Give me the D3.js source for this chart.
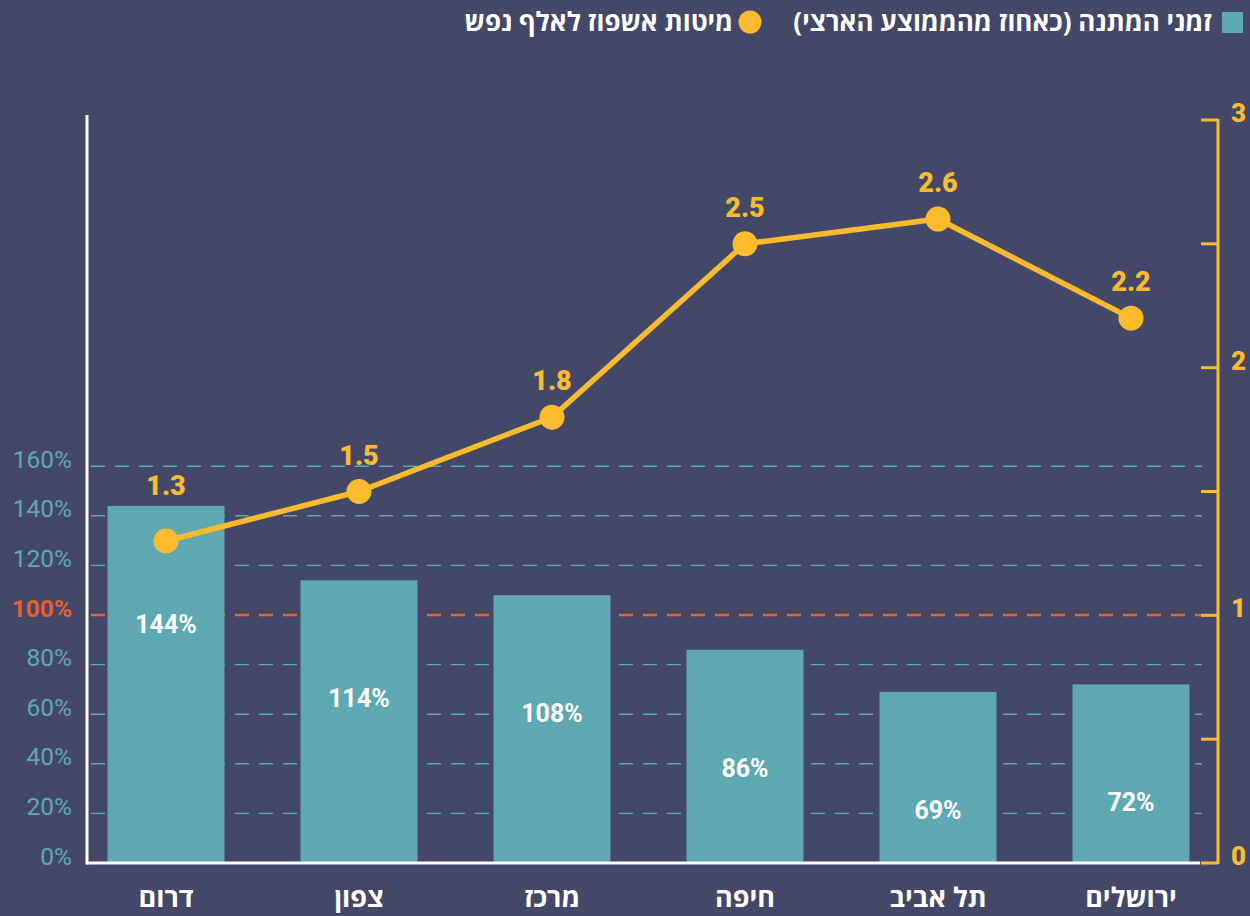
<!DOCTYPE html>
<html>
<head>
<meta charset="utf-8">
<script src="https://cdn.jsdelivr.net/npm/d3@7"></script>
<style>
  html, body { margin: 0; padding: 0; background: #434768; }
  svg { display: block; }
  text { font-family: Roboto, "Liberation Sans", sans-serif; }
  .heb { font-family: "Open Sans", "Liberation Sans", "DejaVu Sans", sans-serif; }
</style>
</head>
<body>
<div id="chart"></div>
<script>

// Data, left to right as drawn.
const regions = ["דרום", "צפון", "מרכז", "חיפה", "תל אביב", "ירושלים"];
const waitPct = [144, 114, 108, 86, 69, 72];
const bedsPer1000 = [1.3, 1.5, 1.8, 2.5, 2.6, 2.2];
const leftTicks = [0, 20, 40, 60, 80, 100, 120, 140, 160];
const rightTicks = [0, 0.5, 1, 1.5, 2, 2.5, 3];
const rightLabels = [0, 1, 2, 3];
const legendBars = "זמני המתנה (כאחוז מהממוצע הארצי)";
const legendBeds = "מיטות אשפוז לאלף נפש";

const width = 1250, height = 916;
const teal = "#5fa8b2", yellow = "#fbbb2c", orange = "#e8602c";

let svg = d3.select("#chart").append("svg")
    .attr("width", width)
    .attr("height", height);

// Scales
let x = d3.scaleBand().domain(regions)
    .range([69.5, 1227.5])
    .paddingInner(0.394).paddingOuter(0.197);
let yL = d3.scaleLinear().domain([0, 100]).range([863, 615]);
let yR = d3.scaleLinear().domain([0, 3]).range([863, 120]);

let axisX = 87, axisR = 1218, gridEnd = 1202;

// Gridlines
svg.append("g").selectAll("line")
    .data(leftTicks.filter(d => d > 0))
    .join("line")
      .attr("x1", axisX).attr("x2", gridEnd)
      .attr("y1", d => yL(d)).attr("y2", d => yL(d))
      .attr("stroke", d => d === 100 ? orange : teal)
      .attr("stroke-width", d => d === 100 ? 2.5 : 1.4)
      .attr("stroke-dasharray", "14,10")
      .attr("stroke-dashoffset", -4);

// Bars
svg.append("g").selectAll("rect")
    .data(waitPct)
    .join("rect")
      .attr("x", (d, i) => x(regions[i]))
      .attr("width", x.bandwidth())
      .attr("y", d => yL(d))
      .attr("height", d => yL(0) - yL(d))
      .attr("fill", teal);

// Bar value labels
svg.append("g").selectAll("text")
    .data(waitPct)
    .join("text")
      .attr("x", (d, i) => x(regions[i]) + x.bandwidth() / 2)
      .attr("y", d => yL(d) + 127)
      .attr("text-anchor", "middle")
      .attr("fill", "#fff")
      .attr("font-weight", 700)
      .attr("font-size", 25)
      .text(d => d + "%");

// Left axis labels
svg.append("g").selectAll("text")
    .data(leftTicks)
    .join("text")
      .attr("x", 72)
      .attr("y", d => yL(d) + 1.5)
      .attr("text-anchor", "end")
      .attr("fill", d => d === 100 ? orange : teal)
      .attr("font-weight", d => d === 100 ? 700 : 400)
      .attr("font-size", 24.5)
      .text(d => d + "%");

// Left axis and baseline
svg.append("line")
    .attr("x1", axisX).attr("x2", axisX)
    .attr("y1", 115).attr("y2", yL(0) + 1.5)
    .attr("stroke", "#fff").attr("stroke-width", 3);
svg.append("line")
    .attr("x1", axisX).attr("x2", 1200)
    .attr("y1", yL(0)).attr("y2", yL(0))
    .attr("stroke", "#fff").attr("stroke-width", 3);

// Right axis
let rAxis = svg.append("g").attr("transform", "translate(" + axisR + ",0)");
rAxis.append("line")
    .attr("y1", yR(3) - 1).attr("y2", yR(0) + 1)
    .attr("stroke", yellow).attr("stroke-width", 3);
rAxis.selectAll("line.tick")
    .data(rightTicks)
    .join("line")
      .attr("class", "tick")
      .attr("x1", -17).attr("x2", 0)
      .attr("y1", d => yR(d)).attr("y2", d => yR(d))
      .attr("stroke", yellow).attr("stroke-width", 3);
rAxis.selectAll("text")
    .data(rightLabels)
    .join("text")
      .attr("x", 13)
      .attr("y", d => yR(d) + 2)
      .attr("fill", yellow)
      .attr("font-weight", 900)
      .attr("font-size", 26)
      .text(d => d);

// Line
let pts = bedsPer1000.map((v, i) => ({v: v, cx: x(regions[i]) + x.bandwidth() / 2, top: yL(waitPct[i])}));
let line = d3.line().x(d => d.cx).y(d => yR(d.v));
svg.append("path")
    .attr("d", line(pts))
    .attr("fill", "none")
    .attr("stroke", yellow)
    .attr("stroke-width", 5.5)
    .attr("stroke-linejoin", "round");
svg.append("g").selectAll("circle")
    .data(pts)
    .join("circle")
      .attr("cx", d => d.cx)
      .attr("cy", d => yR(d.v))
      .attr("r", 12.5)
      .attr("fill", yellow);
svg.append("g").selectAll("text")
    .data(pts)
    .join("text")
      .attr("x", d => d.cx)
      .attr("y", d => Math.min(yR(d.v) - 27, d.top - 11))
      .attr("text-anchor", "middle")
      .attr("fill", yellow)
      .attr("font-weight", 900)
      .attr("font-size", 27)
      .text(d => d.v.toFixed(1));

// Category labels
svg.append("g").selectAll("text")
    .data(regions)
    .join("text")
      .attr("class", "heb")
      .attr("x", d => x(d) + x.bandwidth() / 2)
      .attr("y", 907)
      .attr("text-anchor", "middle")
      .attr("fill", "#fff")
      .attr("font-weight", 700)
      .attr("font-size", 27)
      .text(d => d);

// Legend
let legend = svg.append("g");
legend.append("rect")
    .attr("x", 1222).attr("y", 12)
    .attr("width", 21).attr("height", 21)
    .attr("fill", teal);
legend.append("text")
    .attr("class", "heb")
    .attr("x", 1212).attr("y", 31)
    .attr("direction", "rtl")
    .attr("text-anchor", "start")
    .attr("fill", "#fff")
    .attr("font-weight", 700)
    .attr("font-size", 26)
    .text(legendBars);
legend.append("circle")
    .attr("cx", 750).attr("cy", 22).attr("r", 11.5)
    .attr("fill", yellow);
legend.append("text")
    .attr("class", "heb")
    .attr("x", 733).attr("y", 31)
    .attr("direction", "rtl")
    .attr("text-anchor", "start")
    .attr("fill", "#fff")
    .attr("font-weight", 700)
    .attr("font-size", 26)
    .text(legendBeds);

</script>
</body>
</html>
